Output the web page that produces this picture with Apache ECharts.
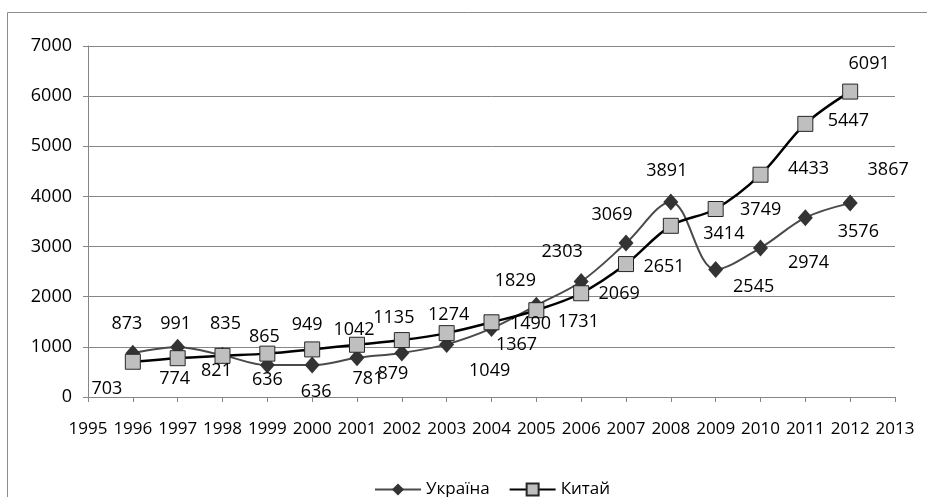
<!DOCTYPE html>
<html>
<head>
<meta charset="utf-8">
<script src="https://cdn.jsdelivr.net/npm/echarts@6/dist/echarts.min.js"></script>
<style>
html,body{margin:0;padding:0;background:#fff;}
#c{width:927px;height:497px;}
</style>
</head>
<body>
<div id="c"></div>
<script>
const years = [1996,1997,1998,1999,2000,2001,2002,2003,2004,2005,2006,2007,2008,2009,2010,2011,2012];
const ukraine = [873,991,835,636,636,781,879,1049,1367,1829,2303,3069,3891,2545,2974,3576,3867];
const china = [703,774,821,865,949,1042,1135,1274,1490,1731,2069,2651,3414,3749,4433,5447,6091];
const seriesNames = ['Україна','Китай'];

// label placement (styling only), offsets from each point
const ukrLabelOffset = [[-6,-29],[-2,-23],[3,-31],[0,15],[4,27],[11,21],[-9,21],[43,26],[25,16],[-21,-24],[-19,-30],[-14,-28],[-4,-31],[38,17],[48,15],[53,14],[38,-33]];
const chnLabelOffset = [[-26,27],[-3,21],[-6,15],[-3,-17],[-5,-25],[-3,-15],[-8,-22],[2,-18],[39,2],[42,12],[38,1],[38,3],[53,8],[45,1],[48,-6],[43,-3],[19,-28]];

const FONT = '"Open Sans", "Noto Sans", sans-serif';

function build(vals, offs) {
  return vals.map((v, i) => ({
    value: [years[i], v],
    label: { offset: offs[i] }
  }));
}

const chart = echarts.init(document.getElementById('c'), null, {renderer: 'canvas'});
chart.setOption({
  animation: false,
  backgroundColor: '#fff',
  textStyle: { fontFamily: FONT },
  graphic: [{
    type: 'rect',
    shape: { x: 7.5, y: 12.5, width: 940, height: 500 },
    style: { fill: 'none', stroke: '#8c8c8c', lineWidth: 1 },
    silent: true,
    z: -1
  }],
  grid: { left: 88, right: 32, top: 46, bottom: 100 },
  xAxis: {
    type: 'value', min: 1995, max: 2013, interval: 1,
    axisLine: { lineStyle: { color: '#868686', width: 1 } },
    axisTick: { show: true, length: 5, lineStyle: { color: '#868686' } },
    splitLine: { show: false },
    axisLabel: { color: '#000', fontSize: 17, fontFamily: FONT, margin: 24, formatter: v => String(v) }
  },
  yAxis: {
    type: 'value', min: 0, max: 7000, interval: 1000,
    axisLine: { show: true, lineStyle: { color: '#868686', width: 1 } },
    axisTick: { show: true, length: 5, lineStyle: { color: '#868686' } },
    splitLine: { show: true, lineStyle: { color: '#868686', width: 1 } },
    axisLabel: { color: '#000', fontSize: 18, fontFamily: FONT, margin: 16, formatter: v => String(v) }
  },
  legend: {
    left: 369, top: 476,
    itemWidth: 46, itemHeight: 15, itemGap: 19,
    textStyle: { color: '#000', fontSize: 17, fontFamily: FONT },
    data: seriesNames
  },
  series: [
    {
      name: seriesNames[0], type: 'line', smooth: 0.35,
      data: build(ukraine, ukrLabelOffset),
      symbol: 'diamond', symbolSize: [15, 17],
      lineStyle: { color: '#4a4a4a', width: 2 },
      itemStyle: { color: '#333333', borderColor: '#333333', borderWidth: 0 },
      label: { show: true, position: 'inside', color: '#000', fontSize: 18, fontFamily: FONT,
               formatter: p => String(p.value[1]) },
      z: 2
    },
    {
      name: seriesNames[1], type: 'line', smooth: 0.35,
      data: build(china, chnLabelOffset),
      symbol: 'rect', symbolSize: 15,
      lineStyle: { color: '#000', width: 2.5 },
      itemStyle: { color: '#bfbfbf', borderColor: '#262626', borderWidth: 1 },
      label: { show: true, position: 'inside', color: '#000', fontSize: 18, fontFamily: FONT,
               formatter: p => String(p.value[1]) },
      z: 3
    }
  ]
});
</script>
</body>
</html>
